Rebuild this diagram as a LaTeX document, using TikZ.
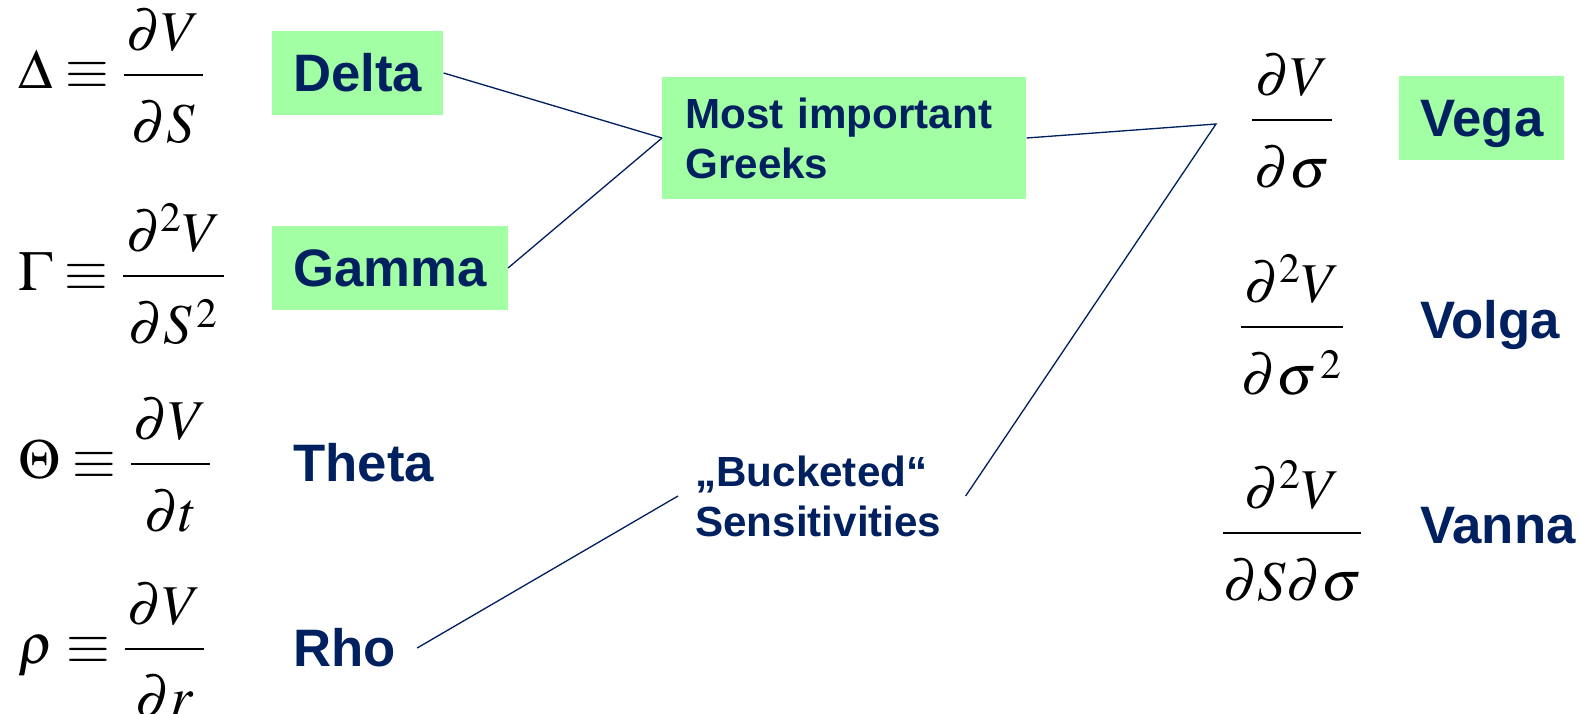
\documentclass[tikz,border=0pt]{standalone}
\usepackage{amsmath}
\usepackage{mathptmx}
\usepackage[no-math]{fontspec}
\setsansfont{Liberation Sans}
\definecolor{navy}{RGB}{0,32,96}
\definecolor{mint}{RGB}{163,255,163}
% fraction with a lower denominator
\newcommand{\fr}[2]{\dfrac{\mkern1mu#1\mkern1mu}{\rule{0pt}{1.07em}#2}}

\begin{document}
\begin{tikzpicture}[x=0.02cm,y=-0.02cm,
    greek/.style={anchor=west, text=navy, inner xsep=0.42cm, inner ysep=0pt,
      font=\fontsize{30}{34}\selectfont\sffamily\bfseries,
      text height=21.5pt, text depth=0pt, minimum height=1.68cm},
    greekbox/.style={greek, fill=mint},
    group/.style={anchor=west, text=navy, align=left, inner ysep=0pt,
      font=\fontsize{24}{28.5}\selectfont\sffamily\bfseries},
    formula/.style={inner sep=0pt, font=\fontsize{32}{38}\selectfont},
    link/.style={navy, line width=0.75pt}]
		\useasboundingbox (0,0) rectangle (1581,713);

		% Formulas on the left
		\node[formula, anchor=base west] (fDelta) at (18,89)
			{$\displaystyle \Delta\equiv\fr{\partial V}{\partial S}$};
		\node[formula, anchor=base west] (fGamma) at (18,290)
			{$\displaystyle \Gamma\equiv\fr{\partial^2 V}{\partial S^{\,2}}$};
		\node[formula, anchor=base west] (fTheta) at (18,478)
			{$\displaystyle \Theta\equiv\fr{\partial V}{\partial t}$};
		\node[formula, anchor=base west] (fRho) at (18,663)
			{$\displaystyle \rho\equiv\fr{\partial V}{\partial r}$};

		% Names of the Greeks
		\node[greekbox] (Delta) at (272,73)  {Delta};
		\node[greekbox] (Gamma) at (272,268) {Gamma};
		\node[greek]    (Theta) at (272,463) {Theta};
		\node[greek]    (Rho)   at (272,648) {Rho};

		% The two groups in the middle
		\node[group, fill=mint, inner xsep=0.46cm, text width=6.36cm,
			minimum height=2.44cm] (Important) at (662,138)
			{Most important\\Greeks};
		\node[group, inner xsep=0.34cm, text width=5.06cm] (Bucketed) at (678,496)
			{„Bucketed“\\Sensitivities};

		% Formulas on the right
		\node[formula, anchor=base] (fVega)  at (1292,134)
			{$\displaystyle \fr{\partial V}{\partial\sigma}$};
		\node[formula, anchor=base] (fVolga) at (1292,341)
			{$\displaystyle \fr{\partial^2 V}{\partial\sigma^{\,2}}$};
		\node[formula, anchor=base] (fVanna) at (1292,547)
			{$\displaystyle \fr{\partial^2 V}{\partial S\partial\sigma}$};

		\node[greekbox] (Vega)  at (1399,118) {Vega};
		\node[greek]    (Volga) at (1399,320) {Volga};
		\node[greek]    (Vanna) at (1399,525) {Vanna};

		% Connectors
		\coordinate (VegaTip) at (1216,124);
		\draw[link] (Delta.east) -- (Important.west);
		\draw[link] (Gamma.east) -- (Important.west);
		\draw[link] (Important.east) -- (VegaTip) -- (Bucketed.east);
		\draw[link] (Rho.east) -- (Bucketed.west);
	  \end{tikzpicture}
\end{document}
